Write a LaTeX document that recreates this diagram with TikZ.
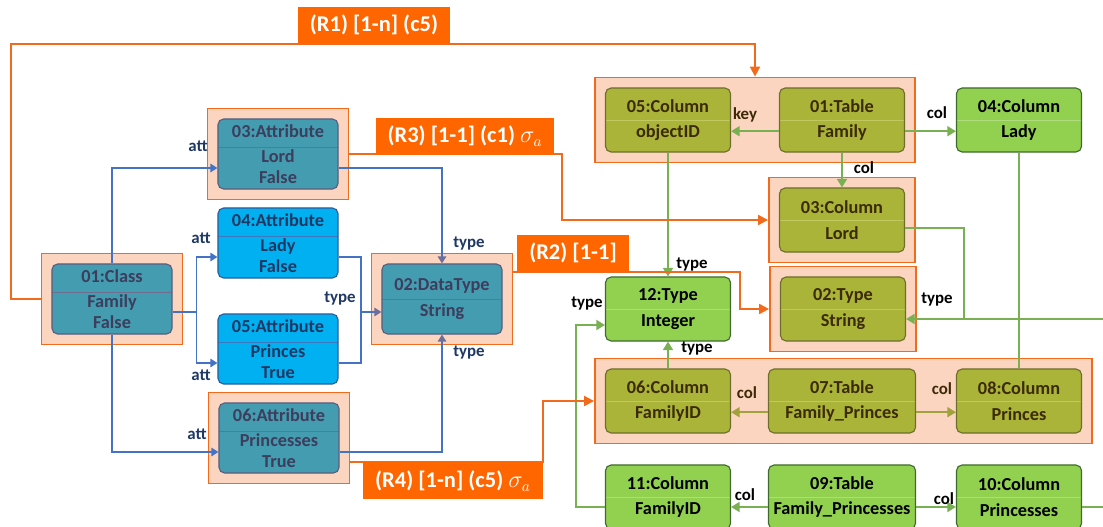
\documentclass[tikz,border=0pt]{standalone}
\usepackage{fontspec}
\setmainfont{Carlito}
\usetikzlibrary{arrows.meta,fit,backgrounds,positioning}

\definecolor{framebd}{HTML}{F26B1D}
\definecolor{framefill}{HTML}{FCD5C0}
\definecolor{rorange}{HTML}{FF6600}
\definecolor{tealfill}{HTML}{449CB1}
\definecolor{tealbd}{HTML}{5C5C7C}
\definecolor{tealtx}{HTML}{3D3D5C}
\definecolor{tealdv}{HTML}{6E6E90}
\definecolor{newfill}{HTML}{00B0F0}
\definecolor{newbd}{HTML}{2E5C9A}
\definecolor{newtx}{HTML}{1F3864}
\definecolor{newdv}{HTML}{3A78C0}
\definecolor{olfill}{HTML}{AAB438}
\definecolor{olbd}{HTML}{6E6E2E}
\definecolor{oltx}{HTML}{3B2A05}
\definecolor{oldv}{HTML}{C2C860}
\definecolor{grfill}{HTML}{92D050}
\definecolor{grbd}{HTML}{3E6B2C}
\definecolor{grdv}{HTML}{B0DC80}
\definecolor{attblue}{HTML}{4472C4}
\definecolor{tipgray}{HTML}{6E6E9A}
\definecolor{navy}{HTML}{1F3864}
\definecolor{gline}{HTML}{79B052}
\definecolor{oline}{HTML}{A0A23C}

\tikzset{
  box/.style={draw, rounded corners=4pt, line width=0.8pt, inner sep=1pt, align=center,
    minimum width=3.125cm, minimum height=1.6cm, font=\fontsize{13}{18}\selectfont\bfseries},
  splitmid/.style={path picture={\draw[#1, line width=0.5pt]
    (path picture bounding box.west) -- (path picture bounding box.east);}},
  splittop/.style={path picture={\draw[#1, line width=0.5pt]
    ([yshift=-0.7cm]path picture bounding box.north west) -- ([yshift=-0.7cm]path picture bounding box.north east);}},
  mmbox/.style={box, fill=tealfill, draw=tealbd, text=tealtx, minimum width=3cm, minimum height=1.75cm,
    font=\fontsize{13}{15}\selectfont\bfseries, splittop=tealdv},
  mmnew/.style={mmbox, fill=newfill, draw=newbd, text=newtx, splittop=newdv},
  colbox/.style={box, fill=olfill, draw=olbd, text=oltx, splitmid=oldv},
  colnew/.style={box, fill=grfill, draw=grbd, text=black, splitmid=grdv},
  wide/.style={minimum width=3.675cm},
  frame/.style={draw=framebd, fill=framefill, line width=1.2pt, inner sep=0.25cm},
  rlabel/.style={fill=rorange, text=white, inner xsep=0.3cm, inner ysep=0pt, minimum height=0.93cm,
    font=\fontsize{16}{18}\selectfont\bfseries},
  lab/.style={font=\fontsize{12}{14}\selectfont\bfseries, inner sep=1pt},
  attline/.style={draw=attblue, line width=1.2pt, -{Triangle[length=5pt,width=6pt]}},
  typeline/.style={attline, -{Triangle[length=5pt,width=6pt,color=tipgray]}},
  rline/.style={draw=framebd, line width=1.5pt, -{Triangle[length=7pt,width=7pt]}},
  gedge/.style={draw=gline, line width=1.3pt, -{Triangle[length=6pt,width=7pt]}},
  oedge/.style={gedge, draw=oline},
}

\begin{document}
\begin{tikzpicture}[x=0.025cm, y=-0.025cm]
  \useasboundingbox (0,0) rectangle (1103,526);

  % source model
  \node[mmbox] (cls)   at (112,299) {01:Class\\[3pt]Family\\False};
  \node[mmbox] (att03) at (278,154) {03:Attribute\\[3pt]Lord\\False};
  \node[mmnew] (att04) at (278,243) {04:Attribute\\[3pt]Lady\\False};
  \node[mmnew] (att05) at (278,349) {05:Attribute\\[3pt]Princes\\True};
  \node[mmbox] (att06) at (279,438) {06:Attribute\\[3pt]Princesses\\True};
  \node[mmbox, splitmid=tealdv] (dt) at (442,299) {02:DataType\\[4pt]String};

  % target schema
  \node[colbox] (col05) at (668,120) {05:Column\\objectID};
  \node[colbox] (tab01) at (842,120) {01:Table\\Family};
  \node[colnew] (col04) at (1019,120) {04:Column\\Lady};
  \node[colbox] (col03) at (842,220) {03:Column\\Lord};
  \node[colnew] (type12) at (668,309) {12:Type\\Integer};
  \node[colbox] (type02) at (843,309) {02:Type\\String};
  \node[colbox] (col06) at (668,401) {06:Column\\FamilyID};
  \node[colbox, wide] (tab07) at (842,401) {07:Table\\Family\_Princes};
  \node[colbox] (col08) at (1019,401) {08:Column\\Princes};
  \node[colnew] (col11) at (668,497) {11:Column\\FamilyID};
  \node[colnew, wide] (tab09) at (842,497) {09:Table\\Family\_Princesses};
  \node[colnew] (col10) at (1019,497) {10:Column\\Princesses};

  % mapped groups
  \begin{scope}[on background layer]
    \node[frame, fit=(cls)] (clsf) {};
    \node[frame, fit=(att03)] (att03f) {};
    \node[frame, fit=(att06)] (att06f) {};
    \node[frame, fit=(dt)] (dtf) {};
    \node[frame, fit=(col05)(tab01)] (tabf) {};
    \node[frame, fit=(col03)] (col03f) {};
    \node[frame, fit=(type02)] (type02f) {};
    \node[frame, fit=(col06)(tab07)(col08)] (midf) {};
  \end{scope}

  % att / type edges
  \draw[attline] (cls.north) |- ([yshift=-0.35cm]att03.west);
  \draw[attline, -] ([yshift=-0.32cm]cls.east) -- ++(24,0) coordinate (cj);
  \draw[attline] (cj) |- ([yshift=-0.35cm]att04.west);
  \draw[attline] (cj) |- ([yshift=-0.35cm]att05.west);
  \draw[attline] (cls.south) |- ([yshift=-0.35cm]att06.west);
  \draw[typeline] ([yshift=-0.35cm]att03.east) -| (dt.north);
  \coordinate (tj) at (361,312);
  \draw[typeline, -] ([yshift=-0.35cm]att04.east) -| (tj);
  \draw[typeline, -] ([yshift=-0.35cm]att05.east) -| (tj);
  \draw[typeline] (tj) -- (tj -| dt.west);
  \draw[typeline] ([yshift=-0.35cm]att06.east) -| (dt.south);

  \node[lab, text=navy] (la03) at (198,146) {att};
  \node[lab, text=navy] (la04) at (201,238) {att};
  \node[lab, text=navy] (la05) at (201,375) {att};
  \node[lab, text=navy] (la06) at (197,434) {att};
  \node[lab, text=navy] (lt1) at (469,244) {type};
  \node[lab, text=navy] (lt2) at (340,298) {type};
  \node[lab, text=navy] (lt3) at (469,352) {type};

  % schema edges
  \draw[gedge] ([yshift=-0.28cm]tab01.west) -- ([yshift=-0.28cm]col05.east);
  \draw[gedge] ([yshift=-0.28cm]tab01.east) -- ([yshift=-0.28cm]col04.west);
  \draw[gedge] (tab01.south) -- (col03.north);
  \draw[gedge] (col05.south) -- (type12.north);
  \draw[gedge] (col06.north) -- (type12.south);
  \draw[gedge, -] (col04.south) -- (col08.north);
  \coordinate (rt) at (1112,319);
  \draw[gedge] ([yshift=-0.25cm]col10.east) -| (rt) -- ([yshift=-0.25cm]type02.east);
  \draw[gedge, -] ([yshift=-0.2cm]col03.east) -| (964,319);
  \draw[oedge] ([yshift=-0.28cm]tab07.west) -- ([yshift=-0.28cm]col06.east);
  \draw[oedge] ([yshift=-0.28cm]tab07.east) -- ([yshift=-0.28cm]col08.west);
  \draw[gedge] ([yshift=-0.25cm]tab09.west) -- ([yshift=-0.25cm]col11.east);
  \draw[gedge] ([yshift=-0.25cm]tab09.east) -- ([yshift=-0.25cm]col10.west);
  \draw[gedge] ([yshift=-0.25cm]col11.west) -- ++(-29,0) |- ([yshift=-0.4cm]type12.west);

  \node[lab, text=oltx] (lkey) at (745,115) {key};
  \node[lab] (lc1) at (937,113) {col};
  \node[lab] (lc2) at (864,168) {col};
  \node[lab] (lt4) at (692,264) {type};
  \node[lab] (lt5) at (587,303) {type};
  \node[lab] (lt6) at (937,299) {type};
  \node[lab] (lt7) at (697,348) {type};
  \node[lab, text=oltx] (lc3) at (747,393) {col};
  \node[lab, text=oltx] (lc4) at (942,389) {col};
  \node[lab] (lc5) at (745,495) {col};
  \node[lab] (lc6) at (944,499) {col};

  % mappings
  \coordinate (r1bend) at (11,44);
  \coordinate (r2x) at (740,0);
  \coordinate (r3x) at (562,0);
  \coordinate (r4x) at (543,0);
  \draw[rline] (clsf.west) -| (r1bend) -| (tabf.north);
  \draw[rline] (att03f.east) -| (r3x |- col03f.west) -- (col03f.west);
  \draw[rline] ([yshift=0.68cm]dtf.east) -| (r2x |- type02f.west) -- (type02f.west);
  \draw[rline] ([yshift=-0.6cm]att06f.east) -| (r4x |- midf.west) -- (midf.west);

  \node[rlabel, anchor=south] (r1) at (374,44) {(R1) [1-n] (c5)};
  \node[rlabel, anchor=south] (r3) at (465,155) {(R3) [1-1] (c1) $\sigma_a$};
  \node[rlabel, anchor=south west] (r2) at (517,272) {(R2) [1-1]};
  \node[rlabel, anchor=north east] (r4) at (543,462) {(R4) [1-n] (c5) $\sigma_a$};
\end{tikzpicture}
\end{document}
